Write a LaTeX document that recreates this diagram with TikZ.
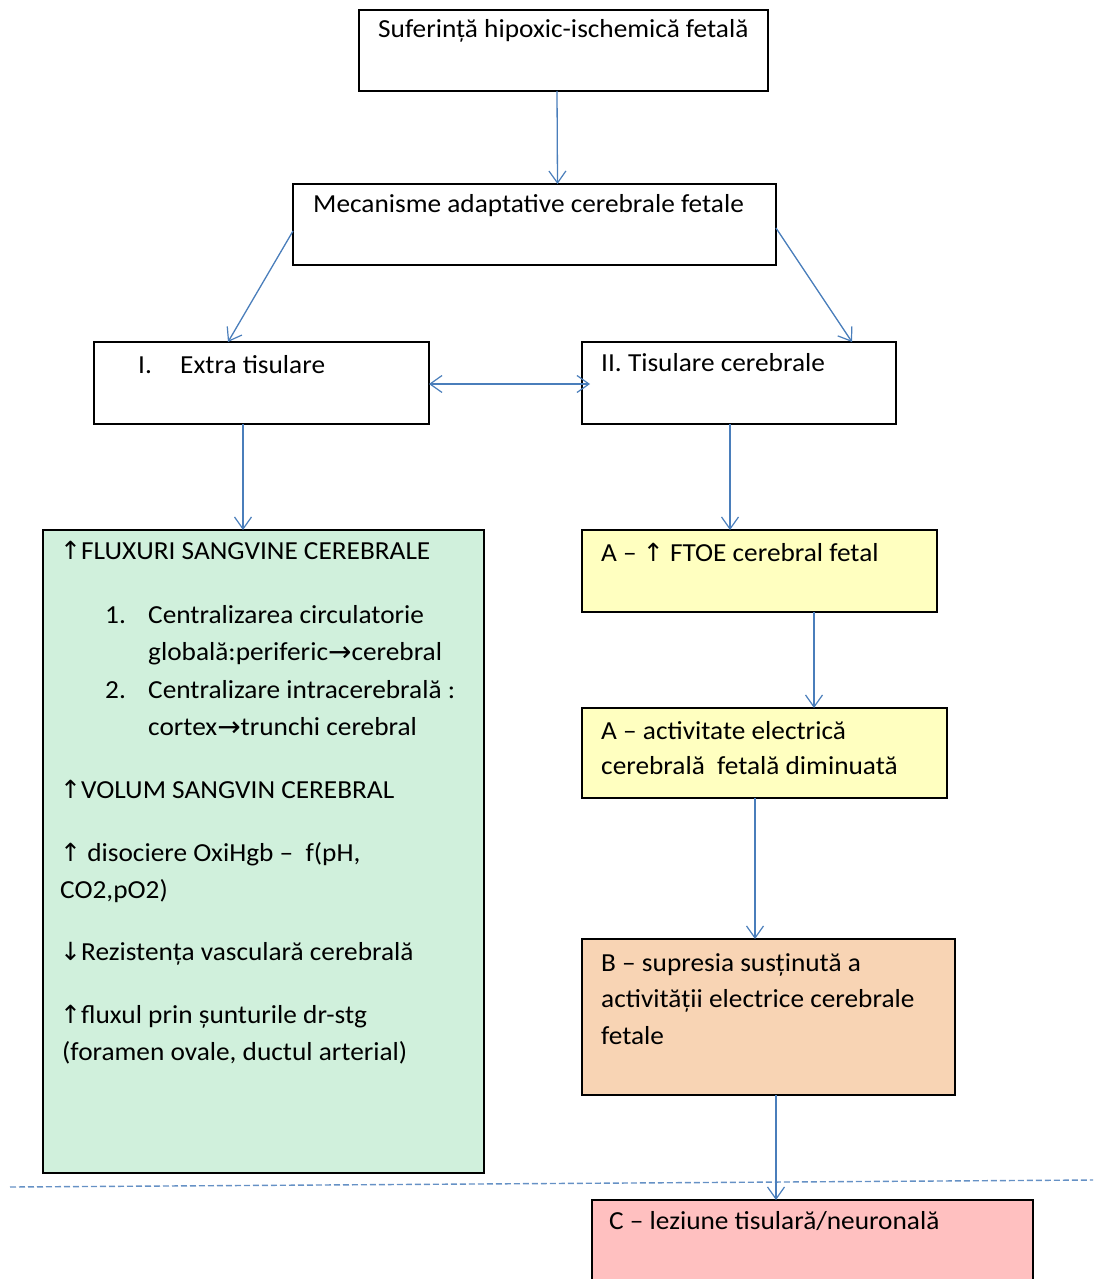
\documentclass[tikz,border=0pt]{standalone}
\usepackage{fontspec}
\setmainfont[FakeStretch=1.05]{Carlito}
\newfontfamily\arrfont{DejaVu Sans}
\usetikzlibrary{arrows.meta}
\definecolor{arrblue}{HTML}{4A7EBB}
\definecolor{greenfill}{HTML}{D0F0DC}
\definecolor{yellowfill}{HTML}{FFFFC0}
\definecolor{orangefill}{HTML}{F8D4B4}
\definecolor{pinkfill}{HTML}{FFC0C0}
\newcommand{\ua}{{\arrfont\fontsize{25}{29}\selectfont ↑}}
\newcommand{\da}{{\arrfont\fontsize{25}{29}\selectfont ↓}}
\newcommand{\ra}{{\arrfont\fontsize{28}{29}\selectfont\raisebox{-1pt}{→}}}
\tikzset{
  box/.style={draw=black, line width=1.4pt, anchor=north west, inner sep=0pt, outer sep=0pt},
  txt/.style={anchor=base west, inner sep=0pt, font=\fontsize{26}{30}\selectfont},
  conn/.style={draw=arrblue, line width=1.3pt, -{Straight Barb[length=12pt,width=17pt,line width=1.2pt]}},
  dconn/.style={draw=arrblue, line width=1.3pt, {Straight Barb[length=12pt,width=17pt,line width=1.2pt]}-{Straight Barb[length=12pt,width=17pt,line width=1.2pt]}}
}
\begin{document}
\begin{tikzpicture}[x=1pt,y=-1pt]
\useasboundingbox (0,0) rectangle (1093,1279);
% boxes
\node[box, minimum width=409pt, minimum height=81pt] (top) at (359,10) {};
\node[box, minimum width=483pt, minimum height=81pt] (mec) at (293,184) {};
\node[box, minimum width=335pt, minimum height=82pt] (ext) at (94,342) {};
\node[box, minimum width=314pt, minimum height=82pt] (tis) at (582,342) {};
\node[box, fill=greenfill, minimum width=441pt, minimum height=643pt] (green) at (43,530) {};
\node[box, fill=yellowfill, minimum width=355pt, minimum height=82pt] (ftoe) at (582,530) {};
\node[box, fill=yellowfill, minimum width=365pt, minimum height=90pt] (act) at (582,708) {};
\node[box, fill=orangefill, minimum width=373pt, minimum height=156pt] (sup) at (582,939) {};
\node[box, fill=pinkfill, minimum width=441pt, minimum height=90pt] (lez) at (592,1200) {};
% texts
\node[txt] (t1) at (378,38) {Suferință hipoxic-ischemică fetală};
\node[txt] (t2) at (313,212) {Mecanisme adaptative cerebrale fetale};
\node[txt] (t3a) at (138,373) {I.};
\node[txt] (t3b) at (180,373) {Extra tisulare};
\node[txt] (t4) at (601,371) {II. Tisulare cerebrale};
\node[txt] (g1) at (60,559) {\ua FLUXURI SANGVINE CEREBRALE};
\node[txt] (g2n) at (105,623) {1.};
\node[txt] (g2) at (148,623) {Centralizarea circulatorie};
\node[txt] (g3) at (148,660) {globală:periferic\ra cerebral};
\node[txt] (g4n) at (105,698) {2.};
\node[txt] (g4) at (148,698) {Centralizare intracerebrală :};
\node[txt] (g5) at (148,735) {cortex\ra trunchi cerebral};
\node[txt] (g6) at (60,798) {\ua VOLUM SANGVIN CEREBRAL};
\node[txt] (g7) at (60,861) {\ua{} disociere OxiHgb –~ f(pH,};
\node[txt] (g8) at (60,898) {CO2,pO2)};
\node[txt] (g9) at (60,960) {\da Rezistența vasculară cerebrală};
\node[txt] (g10) at (60,1023) {\ua fluxul prin șunturile dr-stg};
\node[txt] (g11) at (62,1060) {(foramen ovale, ductul arterial)};
\node[txt] (y1) at (601,561) {A – \ua{} FTOE cerebral fetal};
\node[txt] (y2) at (601,739) {A – activitate electrică};
\node[txt] (y3) at (601,774) {cerebrală~ fetală diminuată};
\node[txt] (o1) at (601,971) {B – supresia susținută a};
\node[txt] (o2) at (601,1007) {activității electrice cerebrale};
\node[txt] (o3) at (601,1044) {fetale};
\node[txt] (p1) at (609,1229) {C – leziune tisulară/neuronală};
% dashed separator
\coordinate (dl) at (10,1187);
\coordinate (dr) at (1093,1180);
\draw[draw=arrblue!85, line width=1.4pt, dash pattern=on 6pt off 3pt] (dl) -- (dr);
% connectors
\draw[conn] ([xshift=-6.5pt]top.south) -- ([xshift=23pt]mec.north);
\draw[conn] ([yshift=-47pt]mec.north west) -- ([xshift=134pt]ext.north west);
\draw[conn] ([yshift=-44pt]mec.north east) -- ([xshift=270pt]tis.north west);
\draw[dconn] ([yshift=-42pt]ext.north east) -- ([xshift=8pt,yshift=-42pt]tis.north west);
\draw[conn] ([xshift=149pt]ext.south west) -- ([xshift=200pt]green.north west);
\draw[conn] ([xshift=148pt]tis.south west) -- ([xshift=148pt]ftoe.north west);
\draw[conn] ([xshift=232pt]ftoe.south west) -- ([xshift=232pt]act.north west);
\draw[conn] ([xshift=173pt]act.south west) -- ([xshift=173pt]sup.north west);
\draw[conn] ([xshift=194pt]sup.south west) -- ([xshift=184pt]lez.north west);
\end{tikzpicture}
\end{document}
